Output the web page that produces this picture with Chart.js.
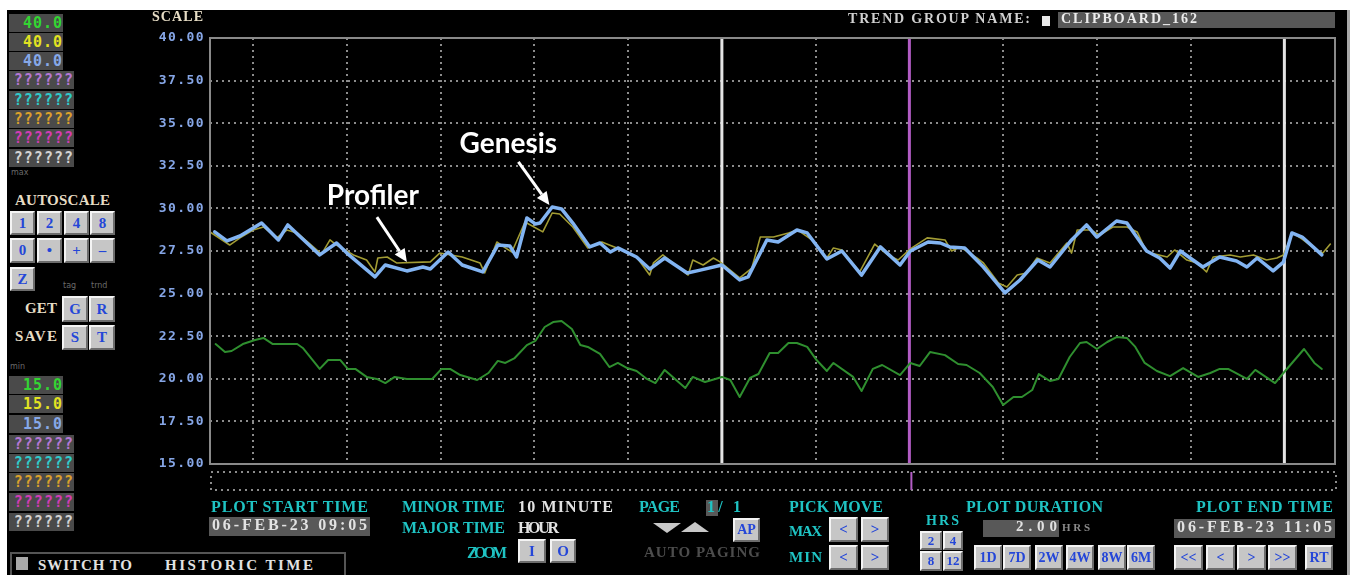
<!DOCTYPE html>
<html>
<head>
<meta charset="utf-8">
<title>Trend - CLIPBOARD_162</title>
<script src="https://cdn.jsdelivr.net/npm/chart.js@4.4.1/dist/chart.umd.min.js"></script>
<style>
  html, body { margin: 0; padding: 0; background: #fff; }
  body { position: relative; width: 1351px; height: 575px; overflow: hidden; }
  #screen { position: absolute; left: 7px; top: 10px; width: 1340px; height: 565px; background: #000; }
  #edge { position: absolute; left: 1347px; top: 10px; width: 3px; height: 565px; background: #a8a8a8; }
  #trend { position: absolute; left: 140px; top: 0; }
  .lab { position: absolute; white-space: pre; line-height: 1; font-family: "Liberation Serif", serif; font-weight: bold; }
  .box { position: absolute; background: #4a4a4a; box-sizing: border-box; }
  .val { position: absolute; background: #4a4a4a; font: bold 15px "DejaVu Sans Mono", monospace; letter-spacing: 1px;
         text-align: right; line-height: 18px; padding-right: 0; box-sizing: border-box; overflow: hidden; white-space: pre; }
  .btn { position: absolute; box-sizing: border-box; background: #c6c6c6; border: 2px solid;
         border-color: #f4f4f4 #6c6c6c #6c6c6c #f4f4f4; color: #2446d8;
         font: bold 15px "Liberation Serif", serif; display: flex; align-items: center; justify-content: center; }
  .tiny { position: absolute; font: 8px "DejaVu Sans", sans-serif; color: #6a6a6a; line-height: 1; }
  .tri { position: absolute; width: 0; height: 0; border-left: 14px solid transparent; border-right: 14px solid transparent; }
</style>
</head>
<body>
<div id="screen"></div>
<div id="edge"></div>
<canvas id="trend" width="1207" height="500"></canvas>
<script>
// --- trend data: minutes after plot start, values in scale units ---
const scaleMin = 15;
const scaleMax = 40;
const scaleStep = 2.5;
const plotMinutes = 120;

const minorTimes = [4.6, 14.6, 24.6, 34.6, 44.6, 54.6, 64.6, 74.6, 84.6, 94.6, 104.6, 114.6];
const majorTimes = [54.6, 114.6];
const cursorTime = 74.6;

const genesisTimes = [0.5, 1.8, 3.2, 5.5, 7.3, 8.3, 11.7, 13.5, 14.6, 17.6, 18.7, 21.0, 22.7, 23.5, 25.4, 26.9,
  29.1, 30.7, 32.0, 32.7, 33.8, 34.7, 35.2, 36.5, 37.5, 38.7, 40.5, 41.6, 42.7, 43.5, 45.5, 46.9, 48.5, 50.9,
  52.3, 54.6, 56.5, 57.4, 59.4, 60.6, 62.6, 63.7, 65.8, 67.4, 69.5, 71.5, 73.6, 74.7, 76.6, 77.9, 78.9, 80.5,
  82.5, 84.8, 86.4, 88.3, 89.6, 91.9, 93.5, 94.6, 96.7, 97.8, 99.9, 101.3, 102.4, 103.5, 105.9, 107.7, 109.5,
  110.6, 111.7, 113.4, 114.5, 115.4, 116.5, 118.6];
const genesisValues = [28.62, 28.09, 28.38, 29.14, 28.15, 29.03, 27.27, 27.97, 27.38, 25.98, 26.68, 26.33, 26.56,
  26.44, 27.44, 26.68, 26.27, 27.85, 27.79, 27.15, 29.44, 29.09, 29.14, 30.08, 29.97, 29.14, 27.74, 27.97, 27.44,
  27.68, 27.15, 26.44, 27.09, 26.21, 26.38, 26.68, 25.80, 25.98, 28.15, 28.03, 28.73, 28.56, 27.03, 27.50, 26.09,
  27.74, 26.68, 27.50, 28.03, 27.97, 27.74, 27.68, 26.56, 25.04, 25.80, 26.97, 26.56, 28.15, 29.03, 28.32, 29.26,
  29.14, 27.50, 27.09, 26.50, 27.50, 26.56, 27.15, 26.91, 26.56, 27.09, 26.33, 26.85, 28.56, 28.32, 27.27];

const profilerTimes = [0.0, 2.1, 3.2, 4.6, 5.7, 7.1, 8.2, 9.3, 11.9, 12.8, 13.5, 15.3, 16.7, 17.6, 17.9, 18.9,
  19.9, 23.5, 24.5, 26.9, 28.8, 29.3, 30.6, 31.5, 32.2, 33.6, 35.5, 36.5, 37.3, 38.7, 40.3, 41.8, 43.4, 45.5,
  46.9, 47.3, 48.3, 51.0, 51.5, 52.6, 53.7, 54.4, 56.5, 57.8, 58.7, 60.1, 61.7, 62.7, 64.2, 65.8, 66.5, 67.4,
  69.3, 70.9, 72.3, 73.4, 74.7, 76.5, 78.4, 79.1, 80.0, 81.8, 82.5, 84.1, 85.0, 86.1, 87.1, 88.2, 89.6, 91.4,
  91.9, 92.5, 93.9, 94.9, 96.3, 97.8, 98.9, 99.9, 102.1, 102.9, 104.2, 105.3, 106.3, 107.0, 108.8, 109.9, 111.3,
  112.7, 113.8, 114.5, 115.5, 116.6, 118.0, 118.7, 119.5];
const profilerValues = [28.62, 27.85, 28.27, 28.73, 28.91, 28.27, 28.73, 28.56, 27.32, 28.15, 27.85, 27.27, 26.97,
  26.27, 27.09, 27.15, 26.80, 26.86, 27.38, 27.15, 26.80, 26.21, 28.03, 27.68, 27.44, 29.20, 28.62, 29.73, 29.67,
  28.91, 27.68, 28.03, 27.68, 27.15, 26.09, 26.80, 27.27, 26.09, 26.97, 26.68, 27.09, 26.86, 25.92, 26.50, 28.32,
  28.32, 28.56, 28.73, 28.15, 27.09, 27.68, 27.56, 26.27, 27.91, 27.27, 26.97, 27.62, 28.27, 28.15, 27.50, 27.74,
  27.09, 26.80, 25.62, 25.39, 26.09, 26.21, 27.09, 26.80, 27.97, 27.38, 28.73, 28.73, 28.44, 28.91, 28.91, 28.62,
  27.44, 27.15, 27.56, 26.97, 26.80, 26.27, 27.15, 27.27, 27.15, 27.27, 26.97, 27.09, 27.27, 28.56, 28.15, 27.56,
  27.38, 27.91];

const greenTimes = [0.6, 1.6, 2.3, 3.5, 4.8, 5.7, 6.7, 8.2, 9.3, 9.9, 11.7, 12.6, 13.9, 14.7, 15.5, 16.7, 17.8,
  18.7, 19.7, 21.0, 23.7, 24.7, 25.6, 26.7, 28.5, 29.7, 30.7, 31.5, 32.5, 33.8, 34.7, 35.7, 36.6, 37.5, 38.6,
  39.5, 40.3, 41.6, 42.6, 43.5, 44.5, 45.5, 46.6, 47.5, 48.5, 50.7, 51.5, 52.8, 53.9, 54.6, 55.5, 56.5, 57.6,
  58.5, 59.7, 60.6, 61.7, 62.6, 63.7, 64.7, 65.8, 66.5, 68.6, 69.5, 70.7, 71.7, 73.6, 74.7, 75.7, 76.8, 78.4,
  79.8, 80.7, 82.1, 83.5, 84.6, 85.7, 86.6, 87.7, 88.4, 89.6, 90.5, 91.7, 92.8, 93.5, 94.6, 95.7, 96.7, 97.8,
  98.7, 99.7, 101.0, 102.4, 103.8, 105.4, 106.7, 107.7, 108.6, 110.6, 111.5, 113.6, 114.5, 116.7, 117.8, 118.6];
const greenValues = [22.04, 21.57, 21.63, 22.04, 22.28, 22.40, 22.04, 22.04, 22.04, 21.81, 20.58, 21.10, 21.10,
  20.58, 20.58, 20.11, 19.99, 19.75, 20.11, 19.99, 19.99, 20.58, 20.58, 20.22, 19.93, 20.34, 21.05, 20.93, 21.22,
  21.98, 22.22, 23.04, 23.33, 23.39, 22.92, 21.98, 21.87, 21.46, 20.69, 20.93, 20.63, 20.46, 19.99, 19.75, 20.52,
  19.46, 20.11, 19.81, 19.99, 20.11, 19.93, 18.93, 20.05, 20.28, 21.51, 21.51, 22.10, 22.10, 21.87, 21.10, 20.46,
  20.93, 20.11, 19.28, 20.58, 20.81, 20.22, 20.93, 20.75, 21.57, 21.39, 20.87, 20.81, 20.34, 19.52, 18.46, 18.93,
  18.93, 19.34, 20.28, 19.87, 19.99, 21.28, 22.10, 22.16, 21.75, 22.16, 22.45, 22.40, 21.87, 20.93, 20.46, 20.16,
  20.63, 20.11, 20.34, 20.58, 20.58, 19.99, 20.52, 19.75, 20.34, 21.75, 20.93, 20.58];

// callouts point at a (time, value) on the trend
const callouts = [
  { text: 'Profiler', t: 21.0, v: 26.85, labelDx: -34, labelDy: -57, tailDx: -30, tailDy: -45 },
  { text: 'Genesis',  t: 36.2, v: 30.2,  labelDx: -41, labelDy: -52, tailDx: -31, tailDy: -43 }
];

function points(times, values) {
  return times.map(function(t, i) { return { x: t, y: values[i] }; });
}

function vline(t) {
  return [{ x: t, y: scaleMin }, { x: t, y: scaleMax }];
}

const hmiPlugin = {
  id: 'hmi',
  beforeDraw: function(chart) {
    chart.ctx.letterSpacing = '1.4px';
  },
  afterDraw: function(chart) {
    const ctx = chart.ctx;
    const a = chart.chartArea;
    const xs = chart.scales.x;
    const ys = chart.scales.y;
    ctx.save();
    ctx.letterSpacing = '0px';

    // plot frame
    ctx.strokeStyle = '#8a8a8a';
    ctx.lineWidth = 2;
    ctx.strokeRect(a.left, a.top, a.right - a.left, a.bottom - a.top);

    // time strip under the plot
    ctx.setLineDash([2, 4]);
    ctx.strokeStyle = '#8c8c8c';
    ctx.strokeRect(a.left + 1, a.bottom + 8, a.right - a.left, 18);
    ctx.setLineDash([]);
    const cx = xs.getPixelForValue(cursorTime);
    ctx.strokeStyle = '#b25cc4';
    ctx.beginPath();
    ctx.moveTo(cx + 2, a.bottom + 8);
    ctx.lineTo(cx + 2, a.bottom + 26);
    ctx.stroke();

    // callouts
    ctx.fillStyle = '#fff';
    ctx.strokeStyle = '#fff';
    ctx.font = 'bold 28px Lato, "Open Sans", sans-serif';
    ctx.textAlign = 'center';
    ctx.textBaseline = 'alphabetic';
    callouts.forEach(function(c) {
      const px = xs.getPixelForValue(c.t);
      const py = ys.getPixelForValue(c.v);
      ctx.fillText(c.text, px + c.labelDx, py + c.labelDy);
      const tx = px + c.tailDx, ty = py + c.tailDy;
      const ang = Math.atan2(py - ty, px - tx);
      const head = 13, half = 6;
      const bx = px - head * Math.cos(ang), by = py - head * Math.sin(ang);
      ctx.lineWidth = 3;
      ctx.beginPath();
      ctx.moveTo(tx, ty);
      ctx.lineTo(bx, by);
      ctx.stroke();
      ctx.beginPath();
      ctx.moveTo(px, py);
      ctx.lineTo(bx + half * Math.sin(ang), by - half * Math.cos(ang));
      ctx.lineTo(bx - half * Math.sin(ang), by + half * Math.cos(ang));
      ctx.closePath();
      ctx.fill();
    });
    ctx.restore();
  }
};

const datasets = [
  { label: 'Genesis', data: points(genesisTimes, genesisValues), borderColor: '#82b4f2', borderWidth: 3.5, order: 1 },
  { label: 'Profiler', data: points(profilerTimes, profilerValues), borderColor: '#a29c34', borderWidth: 1.6, order: 2 },
  { label: 'Tag 1', data: points(greenTimes, greenValues), borderColor: '#2f8f2f', borderWidth: 2, order: 3 }
];
majorTimes.forEach(function(t) {
  datasets.push({ label: 'hour', data: vline(t), borderColor: '#e4e4e4', borderWidth: 3, order: 5 });
});
datasets.push({ label: 'cursor', data: vline(cursorTime), borderColor: '#b25cc4', borderWidth: 3, order: 4 });

new Chart(document.getElementById('trend'), {
  type: 'line',
  data: { datasets: datasets },
  options: {
    responsive: false,
    animation: false,
    parsing: false,
    layout: { padding: { left: 0, right: 12, top: 38, bottom: 36 } },
    elements: {
      point: { radius: 0 },
      line: { tension: 0, borderJoinStyle: 'round', borderCapStyle: 'round' }
    },
    plugins: { legend: { display: false }, tooltip: { enabled: false } },
    scales: {
      x: {
        type: 'linear',
        min: 0,
        max: plotMinutes,
        afterBuildTicks: function(scale) {
          scale.ticks = minorTimes.map(function(v) { return { value: v }; });
        },
        afterFit: function(scale) { scale.height = 0; },
        ticks: { display: false },
        grid: { color: '#8c8c8c', lineWidth: 2, drawTicks: false },
        border: { display: false, dash: [2, 4] }
      },
      y: {
        min: scaleMin,
        max: scaleMax,
        afterFit: function(scale) { scale.width = 70; },
        ticks: {
          stepSize: scaleStep,
          padding: 5,
          color: '#86a6e6',
          font: { family: '"DejaVu Sans Mono", monospace', size: 13, weight: 'bold' },
          callback: function(v) { return v.toFixed(2); }
        },
        grid: { color: '#8c8c8c', lineWidth: 2, drawTicks: false },
        border: { display: false, dash: [2, 4] }
      }
    }
  },
  plugins: [hmiPlugin]
});

// --- surrounding trend display panel ---
const cyan = '#1fc3c3', beige = '#e6dcc4', light = '#e2e2e2';

function lab(text, x, capTop, w, fs, color) {
  const d = document.createElement('div');
  d.className = 'lab';
  d.textContent = text;
  d.style.left = x + 'px';
  d.style.top = (capTop - Math.round(fs * 0.18)) + 'px';
  d.style.fontSize = fs + 'px';
  d.style.color = color;
  document.body.appendChild(d);
  const nat = d.getBoundingClientRect().width;
  if (text.length > 1) d.style.letterSpacing = ((w - nat) / (text.length - 1)) + 'px';
  return d;
}

function btn(text, x, y, w, h, fs) {
  const d = document.createElement('div');
  d.className = 'btn';
  d.textContent = text;
  d.style.cssText += 'left:' + x + 'px;top:' + y + 'px;width:' + w + 'px;height:' + h + 'px;' + (fs ? 'font-size:' + fs + 'px;' : '');
  document.body.appendChild(d);
}

function box(x, y, w, h, bg) {
  const d = document.createElement('div');
  d.className = 'box';
  d.style.cssText += 'left:' + x + 'px;top:' + y + 'px;width:' + w + 'px;height:' + h + 'px;' + (bg ? 'background:' + bg + ';' : '');
  document.body.appendChild(d);
  return d;
}

function val(text, x, y, w, color) {
  const d = document.createElement('div');
  d.className = 'val';
  d.textContent = text;
  d.style.cssText += 'left:' + x + 'px;top:' + y + 'px;width:' + w + 'px;height:18px;color:' + color + ';';
  document.body.appendChild(d);
}

function tiny(text, x, y) {
  const d = document.createElement('div');
  d.className = 'tiny';
  d.textContent = text;
  d.style.left = x + 'px';
  d.style.top = y + 'px';
  document.body.appendChild(d);
}

// pen limits (max / min)
const penColors = ['#33d433', '#e2e222', '#86a8e8', '#b477d4', '#2fcaca', '#d9a02c', '#d23cb4', '#d2d2d2'];
const penMax = ['40.0', '40.0', '40.0', '??????', '??????', '??????', '??????', '??????'];
const penMin = ['15.0', '15.0', '15.0', '??????', '??????', '??????', '??????', '??????'];
const maxRows = [14, 33, 52, 71, 91, 110, 129, 149];
const minRows = [376, 395, 415, 435, 454, 473, 493, 513];
penMax.forEach(function(t, i) { val(t, 9, maxRows[i], t.length > 4 ? 65 : 54, penColors[i]); });
penMin.forEach(function(t, i) { val(t, 9, minRows[i], t.length > 4 ? 65 : 54, penColors[i]); });
tiny('max', 11, 169);
tiny('min', 10, 363);

lab('AUTOSCALE', 15, 196, 95, 15, beige);
['1', '2', '4', '8'].forEach(function(t, i) { btn(t, [10, 37, 64, 90][i], 211, 25, 24); });
['0', '\u2022', '+', '\u2013'].forEach(function(t, i) { btn(t, [10, 37, 64, 90][i], 238, 25, 25); });
btn('Z', 10, 267, 25, 24);
tiny('tag', 63, 282);
tiny('trnd', 91, 282);
lab('GET', 25, 304, 32, 15, beige);
btn('G', 62, 296, 26, 26);
btn('R', 89, 296, 26, 26);
lab('SAVE', 15, 332, 42, 15, beige);
btn('S', 62, 325, 26, 25);
btn('T', 89, 325, 26, 25);

const sw = box(10, 552, 336, 30, '#000');
sw.style.border = '2px solid #555';
box(16, 557, 12, 13, '#a8a8a8');
lab('SWITCH TO', 38, 561, 94, 15, light);
lab('HISTORIC TIME', 165, 561, 148, 15, light);

// header
lab('SCALE', 152, 13, 51, 14, beige);
lab('TREND GROUP NAME:', 848, 15, 182, 14, '#d0d0d0');
box(1042, 16, 8, 10, '#e8e8e8');
box(1058, 12, 277, 16, '#585858');
lab('CLIPBOARD_162', 1061, 15, 136, 14, '#ececec');

// footer controls
lab('PLOT START TIME', 211, 502, 157, 16, cyan);
box(209, 517, 161, 19, '#585858');
lab('06-FEB-23 09:05', 212, 520, 155, 16, light);

lab('MINOR TIME', 402, 502, 103, 16, cyan);
lab('10 MINUTE', 518, 502, 95, 16, light);
lab('MAJOR TIME', 402, 523, 103, 16, cyan);
lab('HOUR', 518, 523, 41, 16, light);
lab('ZOOM', 467, 548, 40, 16, cyan);
btn('I', 518, 539, 28, 24);
btn('O', 550, 539, 26, 24);

lab('PAGE', 639, 502, 41, 16, cyan);
box(706, 500, 12, 16, '#585858');
lab('1/ 1', 707, 502, 34, 16, cyan);
const dn = document.createElement('div');
dn.className = 'tri';
dn.style.cssText += 'left:653px;top:523px;border-top:10px solid #c8c8c8;';
document.body.appendChild(dn);
const up = document.createElement('div');
up.className = 'tri';
up.style.cssText += 'left:681px;top:522px;border-bottom:10px solid #c8c8c8;';
document.body.appendChild(up);
btn('AP', 733, 518, 27, 24, 14);
lab('AUTO PAGING', 644, 548, 116, 15, '#4c4c4c');

lab('PICK MOVE', 789, 502, 94, 16, cyan);
lab('MAX', 789, 527, 33, 15, cyan);
btn('<', 829, 517, 29, 25);
btn('>', 861, 517, 28, 25);
lab('MIN', 789, 553, 33, 15, cyan);
btn('<', 829, 545, 29, 25);
btn('>', 861, 545, 28, 25);

lab('HRS', 926, 517, 33, 14, cyan);
btn('2', 920, 531, 22, 19, 13);
btn('4', 943, 531, 20, 19, 13);
btn('8', 920, 551, 22, 20, 13);
btn('12', 943, 551, 20, 20, 13);

lab('PLOT DURATION', 966, 502, 137, 16, cyan);
box(983, 520, 76, 17, '#585858');
lab('2.00', 1016, 522, 41, 15, light);
lab('HRS', 1062, 524, 28, 11, '#8a8a8a');
['1D', '7D', '2W', '4W', '8W', '6M'].forEach(function(t, i) {
  btn(t, [974, 1003, 1035, 1066, 1098, 1127][i], 545, 28, 25, 14);
});

lab('PLOT END TIME', 1196, 502, 137, 16, cyan);
box(1174, 519, 161, 19, '#585858');
lab('06-FEB-23 11:05', 1177, 522, 155, 16, light);
['<<', '<', '>', '>>'].forEach(function(t, i) {
  btn(t, [1174, 1206, 1237, 1268][i], 545, 29, 25, 14);
});
btn('RT', 1305, 545, 28, 25, 14);
</script>
</body>
</html>
